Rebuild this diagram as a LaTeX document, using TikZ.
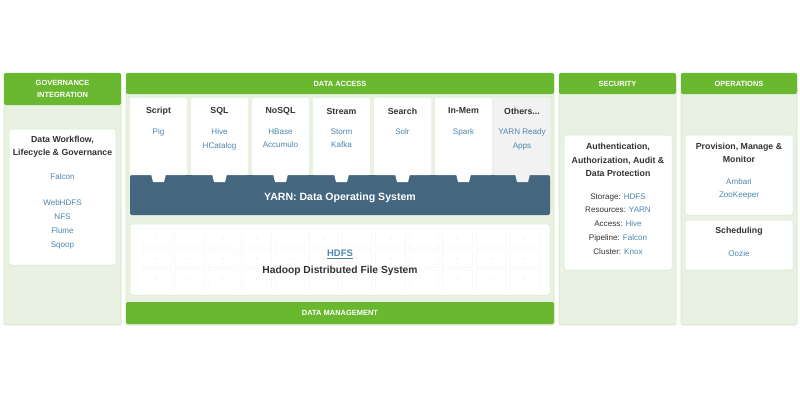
\documentclass[tikz,border=0pt]{standalone}
\usepackage{fontspec}
\setmainfont{Liberation Sans}
\begin{document}
\begin{tikzpicture}[x=1bp,y=-1bp,
  panel/.style={draw=hgreenborder,fill=hlight,line width=0.6bp,rounded corners=2bp},
  head/.style={fill=hgreen,rounded corners=2bp},
  headtxt/.style={text=white,font=\bfseries\fontsize{7.5}{12}\selectfont,align=center},
  wbox/.style={draw=hgreenborder,fill=white,line width=0.5bp,rounded corners=2bp},
  ttl/.style={text=htext,font=\bfseries\fontsize{8.8}{13.5}\selectfont,align=center},
  lnk/.style={text=hblue,font=\fontsize{8.1}{13.8}\selectfont,align=center},
  card/.style={fill=white,rounded corners=1.5bp},
  tab/.style={fill=white}]
\definecolor{hgreen}{HTML}{6AB82F}
\definecolor{hlight}{HTML}{E9F2E2}
\definecolor{hgreenborder}{HTML}{D3E6C5}
\definecolor{htext}{HTML}{333333}
\definecolor{hblue}{HTML}{4D86AE}
\definecolor{hyarn}{HTML}{44667E}
\definecolor{hgrey}{HTML}{F2F2F2}
\useasboundingbox (0,0) rectangle (800,401);
\fill[white] (0,0) rectangle (800,401);
% Governance
\draw[panel] (4,73) rectangle (121,325);
\fill[head] (4,73) rectangle (121,105);
\node[headtxt] (govh) at (62.5,89) {GOVERNANCE\\INTEGRATION};
\draw[wbox] (9,129) rectangle (116,265);
\node[ttl] (govt) at (62.5,147) {Data Workflow,\\Lifecycle \& Governance};
\node[lnk] (govl) at (62.5,177) {Falcon};
\node[lnk] (govl2) at (62.5,224.5) {WebHDFS\\NFS\\Flume\\Sqoop};
% Data access
\draw[panel] (126,73) rectangle (554,325);
\fill[head] (126,73) rectangle (554,94);
\node[headtxt] (dah) at (340,84) {DATA ACCESS};
\draw[draw=hgreenborder,fill=hlight,rounded corners=2bp] (128,96) rectangle (552,208);
\fill[hyarn,rounded corners=2bp] (130,175) rectangle (550,215);
\node[text=white,font=\bfseries\fontsize{10.6}{12}\selectfont] (yarn) at (340,198) {YARN: Data Operating System};
\foreach \x/\t/\l [count=\i] in {130/Script/Pig,191/SQL/{Hive\\HCatalog},252/NoSQL/{HBase\\Accumulo},313/Stream/{Storm\\Kafka},374/Search/Solr,435/In-Mem/Spark}{
  \fill[card] (\x,98) rectangle ++(57,77);
  \fill[tab] (\x+21,174) -- (\x+36,174) -- (\x+34,182) -- (\x+23,182) -- cycle;
  \node[ttl] (ct\i) at (\x+28.5,111) {\t};
  \node[lnk,anchor=north] (cl\i) at (\x+28.5,125) {\l};
}
\fill[hgrey,rounded corners=1.5bp] (494,98) rectangle (550,175);
\fill[hgrey] (515,174) -- (530,174) -- (528,182) -- (517,182) -- cycle;
\node[ttl] (ct7) at (522,111) {Others...};
\node[lnk,anchor=north] (cl7) at (522,125) {YARN Ready\\Apps};
% HDFS
\draw[wbox] (130,224) rectangle (550,295);
\foreach \c in {0,...,11}{\foreach \r in {0,...,2}{
  \draw[draw=black!6,rounded corners=1bp] (141+\c*33.5,229+\r*20.5) rectangle ++(30,18);
  \fill[black!12] (156+\c*33.5,238+\r*20.5) circle (0.6);}}
\node[text=hblue,font=\bfseries\fontsize{9.5}{11}\selectfont] (hdfs) at (340,254) {\underline{HDFS}};
\node[text=htext,font=\bfseries\fontsize{10.3}{12}\selectfont] (hdfs2) at (340,271) {Hadoop Distributed File System};
\fill[head] (126,302) rectangle (554,324);
\node[headtxt] (dmh) at (340,313) {DATA MANAGEMENT};
% Security
\draw[panel] (559,73) rectangle (676,325);
\fill[head] (559,73) rectangle (676,94);
\node[headtxt] (sech) at (617.5,84) {SECURITY};
\draw[wbox] (564,135) rectangle (672,270);
\node[ttl] (sect) at (618,160) {Authentication,\\Authorization, Audit \&\\Data Protection};
\node[text=htext,font=\fontsize{8.1}{13.9}\selectfont,align=center] (secl) at (618,224)
 {Storage: \textcolor{hblue}{HDFS}\\Resources: \textcolor{hblue}{YARN}\\Access: \textcolor{hblue}{Hive}\\Pipeline: \textcolor{hblue}{Falcon}\\Cluster: \textcolor{hblue}{Knox}};
% Operations
\draw[panel] (681,73) rectangle (797,325);
\fill[head] (681,73) rectangle (797,94);
\node[headtxt] (oph) at (739,84) {OPERATIONS};
\draw[wbox] (685,135) rectangle (793,215);
\node[ttl] (opt) at (739,153) {Provision, Manage \&\\Monitor};
\node[lnk] (opl) at (739,189) {Ambari\\ZooKeeper};
\draw[wbox] (685,220) rectangle (793,270);
\node[ttl] (opt2) at (739,231) {Scheduling};
\node[lnk] (opl2) at (739,254) {Oozie};
\end{tikzpicture}
\end{document}
